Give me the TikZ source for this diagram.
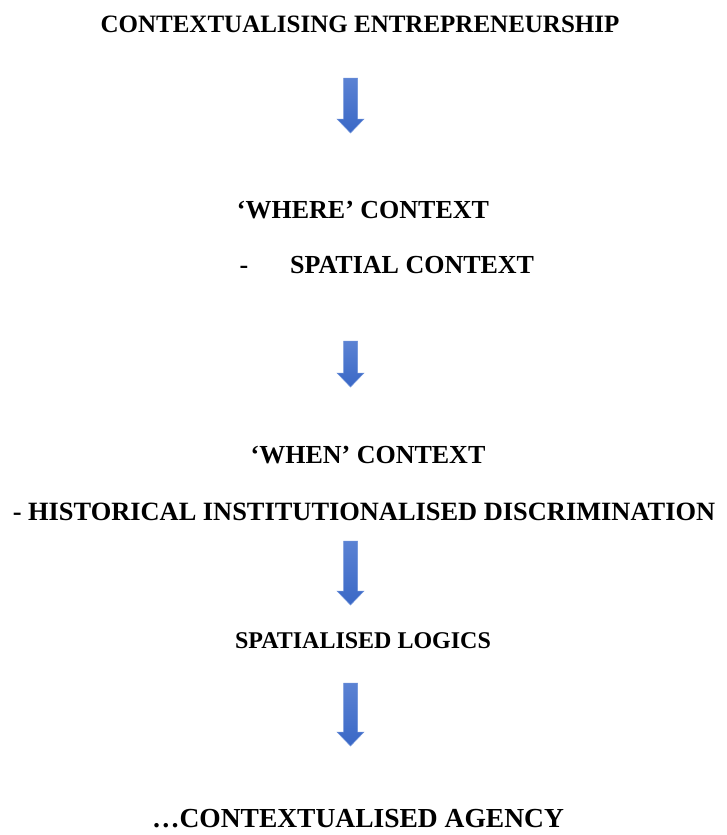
\documentclass[tikz,border=0pt]{standalone}
\usepackage{fontspec}
\setmainfont{Liberation Serif}
\definecolor{arrowtop}{HTML}{5B82D3}
\definecolor{arrowbot}{HTML}{3A68C6}
\definecolor{arrowedge}{HTML}{6E92DA}
\tikzset{
  lbl/.style={font=\fontsize{26}{30}\selectfont\bfseries, anchor=base, inner sep=0pt},
  barrow/.style={top color=arrowtop, bottom color=arrowbot, draw=arrowedge, line width=0.5pt, line join=miter}
}
\newcommand\blockarrowdown[3]{% name, ytop, ybottom
  \coordinate (#1top) at (350.5,#2);
  \coordinate (#1tip) at (350.5,#3);
  \draw[barrow] (343.5,#2) -- (357.5,#2) -- (357.5,#3-14) -- (364,#3-14) -- (#1tip)
     -- (337,#3-14) -- (343.5,#3-14) -- cycle;
}
\begin{document}
\begin{tikzpicture}[x=1pt,y=-1pt]
\useasboundingbox (0,0) rectangle (726,835);
\node[lbl, font=\fontsize{25}{30}\selectfont\bfseries] (title) at (360,32.3) {CONTEXTUALISING ENTREPRENEURSHIP};
\blockarrowdown{a1}{78}{133}
\node[lbl] (where) at (363,218.6) {‘WHERE’ CONTEXT};
\node[lbl] (dash1) at (244,273.6) {-};
\node[lbl, anchor=base west] (spatial) at (290,273.6) {SPATIAL CONTEXT};
\blockarrowdown{a2}{341}{387}
\node[lbl] (when) at (368,463.6) {‘WHEN’ CONTEXT};
\node[lbl, font=\fontsize{26.4}{30}\selectfont\bfseries] (hist) at (364,520.7) {- HISTORICAL INSTITUTIONALISED DISCRIMINATION};
\blockarrowdown{a3}{541}{605}
\node[lbl, font=\fontsize{24}{30}\selectfont\bfseries] (logics) at (363,648) {SPATIALISED LOGICS};
\blockarrowdown{a4}{683}{746}
\node[lbl, font=\fontsize{27.5}{30}\selectfont\bfseries] (agency) at (358,827) {…CONTEXTUALISED AGENCY};
\end{tikzpicture}
\end{document}
